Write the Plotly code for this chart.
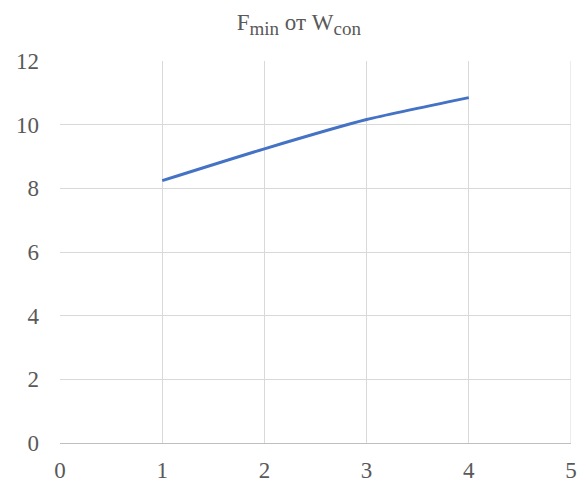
import plotly.graph_objects as go

x_vals = [1, 2, 3, 4]
f_min = [8.24, 9.24, 10.16, 10.85]
x_ticks = [0, 1, 2, 3, 4, 5]
y_ticks = [0, 2, 4, 6, 8, 10, 12]

fig = go.Figure()
fig.add_trace(go.Scatter(x=x_vals, y=f_min, mode="lines",
                         line=dict(color="#4472c4", width=3, shape="spline", smoothing=0.6),
                         showlegend=False, hoverinfo="skip"))

font_serif = "Liberation Serif, Times New Roman, serif"
title_text = ("F<sub><span style='font-size:19px'>min</span></sub> от "
              "W<sub><span style='font-size:19px'>con</span></sub>")
fig.update_layout(
    width=579, height=488,
    margin=dict(l=60, r=8, t=61, b=45, autoexpand=False),
    paper_bgcolor="white", plot_bgcolor="white",
    title=dict(text=title_text, x=0.516, xanchor="center",
               y=1 - 22 / 488, yanchor="middle",
               font=dict(family=font_serif, size=23, color="#595959")),
    xaxis=dict(range=[0, 5], tickvals=x_ticks, showgrid=True, gridcolor="#d9d9d9",
               gridwidth=1, zeroline=False, showline=True, linecolor="#bfbfbf",
               mirror=False, ticks="", automargin=False, ticklabelstandoff=6,
               tickfont=dict(family=font_serif, size=23, color="#595959")),
    yaxis=dict(range=[0, 12], tickvals=y_ticks, showgrid=True, gridcolor="#d9d9d9",
               gridwidth=1, zeroline=False, showline=False, automargin=False,
               ticks="", ticklabelstandoff=20,
               tickfont=dict(family=font_serif, size=23, color="#595959")),
    shapes=[dict(type="line", xref="x", yref="paper", x0=5, x1=5, y0=0, y1=1,
                 line=dict(color="#d9d9d9", width=1))],
)
fig.write_html("out.html", config={"displayModeBar": False},
               post_script="document.body.style.margin='0px';document.body.style.overflow='hidden';")
